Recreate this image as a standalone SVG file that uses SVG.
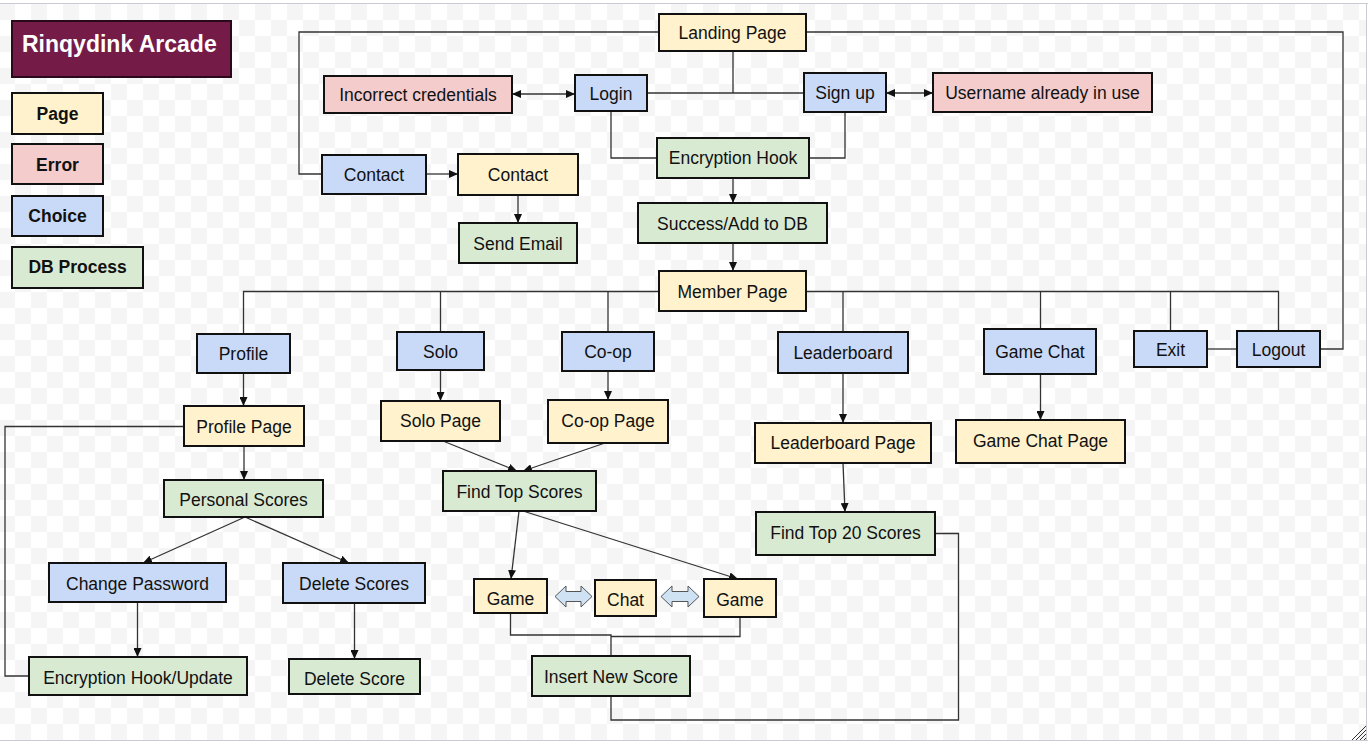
<svg xmlns="http://www.w3.org/2000/svg" width="1368" height="742" viewBox="0 0 1368 742">
<defs>
<pattern id="chk" patternUnits="userSpaceOnUse" x="-1" y="4" width="32" height="32">
<rect width="32" height="32" fill="#ffffff"/>
<rect width="16" height="16" fill="#f5f5f5"/>
<rect x="16" y="16" width="16" height="16" fill="#f5f5f5"/>
</pattern>
<marker id="ah" markerUnits="userSpaceOnUse" markerWidth="9" markerHeight="8" refX="9" refY="4" orient="auto-start-reverse">
<path d="M0,0 L9,4 L0,8 z" fill="#111"/>
</marker>
</defs>
<style>
.n rect{stroke:#111;stroke-width:2}
.page rect{fill:#fff2cc}
.err rect{fill:#f4cccc}
.cho rect{fill:#c9daf8}
.db rect{fill:#d9ead3}
.n text{font-family:"Liberation Sans",Arial,sans-serif;font-size:17.5px;text-anchor:middle;fill:#111}
.lg text{font-weight:bold;font-size:17.5px}
.c path{fill:none;stroke:#333;stroke-width:1.3}
.c path.a{marker-end:url(#ah)}
.c path.d{marker-start:url(#ah);marker-end:url(#ah)}
.blk{fill:#cfe2f3;stroke:#555;stroke-width:1}
</style>
<rect x="0" y="0" width="1368" height="742" fill="#ffffff"/>
<rect x="0" y="4" width="1366" height="736" fill="url(#chk)"/>
<path d="M0,3.5 H1368 M0,740.5 H1368 M1366.5,3 V741" stroke="#c8ccd0" stroke-width="1" fill="none"/>
<path d="M1352,740 L1366,726 M1356,740 L1366,730 M1360,740 L1366,734 M1364,740 L1366,738" stroke="#333" stroke-width="1"/>

<g id="title">
<rect x="12" y="21" width="219" height="56" fill="#741b47" stroke="#2a0a1a" stroke-width="2"/>
<text x="22" y="52" font-family="Liberation Sans,Arial,sans-serif" font-size="23" font-weight="bold" fill="#ffffff">Rinqydink Arcade</text>
</g>
<g id="legend-page" class="n lg page"><rect x="12" y="93" width="91" height="41"/><text x="57.5" y="120">Page</text></g>
<g id="legend-error" class="n lg err"><rect x="12" y="144" width="91" height="40"/><text x="57.5" y="171">Error</text></g>
<g id="legend-choice" class="n lg cho"><rect x="12" y="196" width="91" height="40"/><text x="57.5" y="222">Choice</text></g>
<g id="legend-db" class="n lg db"><rect x="12" y="247" width="131" height="41"/><text x="77.5" y="273">DB Process</text></g>

<g id="connectors" class="c">
<path d="M659,32 H299 V174 H322"/>
<path d="M806,32 H1343 V349 H1320"/>
<path d="M733,51 V93"/>
<path d="M647,93 H804"/>
<path d="M611,111 V158 H657"/>
<path d="M845,112 V158 H809"/>
<path class="d" d="M512,94 H575"/>
<path class="d" d="M886,93 H933"/>
<path class="a" d="M426,174 H458"/>
<path class="a" d="M518,195 V223"/>
<path class="a" d="M733,178 V203"/>
<path class="a" d="M733,243 V271"/>
<path d="M659,291.5 H243.5 V334"/>
<path d="M440.5,291.5 V332"/>
<path d="M608,291.5 V332"/>
<path d="M806,291.5 H1278.5 V331"/>
<path d="M843,291.5 V332"/>
<path d="M1040.5,291.5 V329"/>
<path d="M1170.5,291.5 V331"/>
<path d="M1207,349 H1237"/>
<path class="a" d="M243.5,373 V406"/>
<path class="a" d="M244,446 V480"/>
<path class="a" d="M245,517 L143,563"/>
<path class="a" d="M245,517 L349,563"/>
<path class="a" d="M137.5,602 V657"/>
<path class="a" d="M354.5,603 V659"/>
<path d="M184,426.5 H5 V676 H29"/>
<path class="a" d="M440.5,370 V401"/>
<path class="a" d="M608,371 V400"/>
<path class="a" d="M443,441 L517,471"/>
<path class="a" d="M605,443 L523,471"/>
<path class="a" d="M519,511 L511,579"/>
<path class="a" d="M523,511 L738,579"/>
<path class="a" d="M843,373 V423"/>
<path class="a" d="M1040.5,374 V420"/>
<path class="a" d="M843,463 L845,512"/>
<path d="M510.5,613 V635 H611 V656"/>
<path d="M740,617 V636.5 H611"/>
<path d="M611,696 V720 H958.5 V533.5 H935"/>
</g>

<g id="block-arrows">
<path class="blk" d="M555,596.5 L566,586 L566,591.5 L581,591.5 L581,586 L592,596.5 L581,607 L581,601.5 L566,601.5 L566,607 Z"/>
<path class="blk" d="M661,596.5 L672,586 L672,591.5 L688,591.5 L688,586 L699,596.5 L688,607 L688,601.5 L672,601.5 L672,607 Z"/>
</g>

<g id="landing" class="n page"><rect x="659" y="14" width="147" height="37"/><text x="732.5" y="39">Landing Page</text></g>
<g id="incorrect" class="n err"><rect x="324" y="76" width="188" height="37"/><text x="418" y="101">Incorrect credentials</text></g>
<g id="login" class="n cho"><rect x="575" y="75" width="72" height="36"/><text x="611" y="99.5">Login</text></g>
<g id="signup" class="n cho"><rect x="804" y="73" width="82" height="39"/><text x="845" y="99">Sign up</text></g>
<g id="username" class="n err"><rect x="933" y="73" width="219" height="39"/><text x="1042.5" y="99">Username already in use</text></g>
<g id="encryption" class="n db"><rect x="657" y="138" width="152" height="40"/><text x="733" y="164">Encryption Hook</text></g>
<g id="contact-choice" class="n cho"><rect x="322" y="155" width="104" height="39"/><text x="374" y="181">Contact</text></g>
<g id="contact-page" class="n page"><rect x="458" y="154" width="120" height="41"/><text x="518" y="181">Contact</text></g>
<g id="send-email" class="n db"><rect x="459" y="223" width="118" height="40"/><text x="518" y="249.5">Send Email</text></g>
<g id="success" class="n db"><rect x="638" y="203" width="189" height="40"/><text x="732.5" y="229.5">Success/Add to DB</text></g>
<g id="member" class="n page"><rect x="659" y="271" width="147" height="40"/><text x="732.5" y="297.5">Member Page</text></g>
<g id="profile" class="n cho"><rect x="197" y="334" width="93" height="39"/><text x="243.5" y="360">Profile</text></g>
<g id="profile-page" class="n page"><rect x="184" y="406" width="120" height="40"/><text x="244" y="433">Profile Page</text></g>
<g id="personal-scores" class="n db"><rect x="164" y="480" width="159" height="37"/><text x="243.5" y="505.5">Personal Scores</text></g>
<g id="change-password" class="n cho"><rect x="49" y="563" width="177" height="39"/><text x="137.5" y="590">Change Password</text></g>
<g id="delete-scores" class="n cho"><rect x="283" y="563" width="142" height="40"/><text x="354" y="590">Delete Scores</text></g>
<g id="enc-update" class="n db"><rect x="29" y="657" width="218" height="38"/><text x="138" y="684">Encryption Hook/Update</text></g>
<g id="delete-score" class="n db"><rect x="289" y="659" width="131" height="35"/><text x="354.5" y="685">Delete Score</text></g>
<g id="solo" class="n cho"><rect x="397" y="332" width="87" height="38"/><text x="440.5" y="358">Solo</text></g>
<g id="coop" class="n cho"><rect x="562" y="332" width="92" height="39"/><text x="608" y="358">Co-op</text></g>
<g id="solo-page" class="n page"><rect x="381" y="401" width="119" height="40"/><text x="440.5" y="427">Solo Page</text></g>
<g id="coop-page" class="n page"><rect x="548" y="400" width="120" height="43"/><text x="608" y="427">Co-op Page</text></g>
<g id="find-top" class="n db"><rect x="443" y="471" width="153" height="40"/><text x="519.5" y="498">Find Top Scores</text></g>
<g id="game1" class="n page"><rect x="474" y="579" width="73" height="34"/><text x="510.5" y="604.5">Game</text></g>
<g id="chat" class="n page"><rect x="595" y="580" width="61" height="36"/><text x="625.5" y="605.5">Chat</text></g>
<g id="game2" class="n page"><rect x="704" y="579" width="72" height="38"/><text x="740" y="605.5">Game</text></g>
<g id="insert" class="n db"><rect x="532" y="656" width="158" height="40"/><text x="611" y="683">Insert New Score</text></g>
<g id="leaderboard" class="n cho"><rect x="778" y="332" width="130" height="41"/><text x="843" y="359">Leaderboard</text></g>
<g id="leaderboard-page" class="n page"><rect x="755" y="423" width="176" height="40"/><text x="843" y="448.5">Leaderboard Page</text></g>
<g id="find-top20" class="n db"><rect x="756" y="512" width="179" height="43"/><text x="845.5" y="539">Find Top 20 Scores</text></g>
<g id="game-chat" class="n cho"><rect x="984" y="329" width="112" height="45"/><text x="1040" y="358">Game Chat</text></g>
<g id="game-chat-page" class="n page"><rect x="956" y="420" width="169" height="43"/><text x="1040.5" y="447">Game Chat Page</text></g>
<g id="exit" class="n cho"><rect x="1134" y="331" width="73" height="36"/><text x="1170.5" y="356">Exit</text></g>
<g id="logout" class="n cho"><rect x="1237" y="331" width="83" height="36"/><text x="1278.5" y="356">Logout</text></g>
</svg>
